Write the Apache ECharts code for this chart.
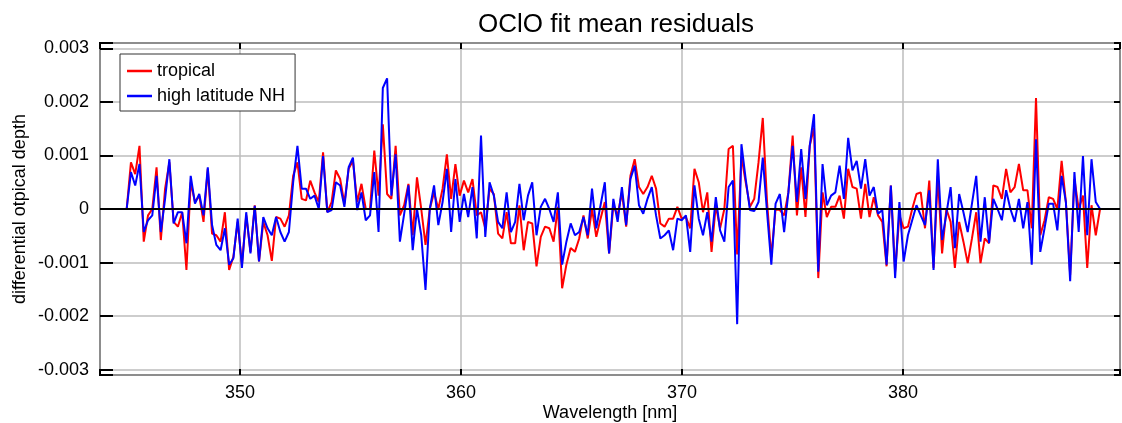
<!DOCTYPE html>
<html><head><meta charset="utf-8">
<script src="https://cdn.jsdelivr.net/npm/echarts@6/dist/echarts.min.js"></script>
<style>html,body{margin:0;padding:0;background:#fff}#c{width:1122px;height:423px}</style>
</head><body><div id="c"></div>
<script>
const chartTitle = 'OClO fit mean residuals';
const xName = 'Wavelength [nm]';
const yName = 'differential otpical depth';
const seriesNames = ['tropical', 'high latitude NH'];
// spectral sampling grid (nm)
const wlStart = 344.674, wlStep = 0.1932;

const tropical = [0, 0, 0.00087, 0.00065, 0.00118, -0.00061, -0.00012, 0, 0.00078, -0.00058,
0.00038, 0.00087, -0.00024, -0.00033, -0.00006, -0.00114, 0.0005, 0.00013, 0.00025, -0.00024,
0.00075, -0.00046, -0.00049, -0.00061, -0.00006, -0.00114, -0.00089, -0.00024, -0.00104, -0.00012,
-0.0008, 0.00007, -0.00098, -0.00024, -0.00049, -0.00097, -0.00015, -0.00018, -0.00033, -0.00012,
0.00062, 0.00087, 0.00019, 0.00016, 0.00053, 0.00031, 0.00013, 0.00106, -0.00006, 0.00013,
0.00072, 0.00056, 0.0001, 0.00075, 0.0009, 0.00013, 0.00047, 0, 0, 0.00109,
0.00025, 0.00158, 0.00028, 0.00019, 0.00118, -0.00012, 0.00007, 0.00047, -0.00049, 0.00059,
0, -0.00067, 0, 0.00031, 0, 0.00038, 0.00102, 0.00019, 0.00084, 0.00025,
0.00053, 0.00031, 0.00056, -0.00012, -0.00006, -0.00036, 0.00038, 0.00028, -0.00046, -0.00055,
-0.00006, -0.00064, -0.00064, 0.00007, -0.00077, -0.00024, -0.00027, -0.00107, -0.00052, -0.00033,
-0.00036, -0.00061, 0.00004, -0.00148, -0.00104, -0.00073, -0.0008, -0.00055, -0.00012, -0.00055,
0, -0.00052, -0.00018, 0.00013, -0.00083, 0.00007, -0.00012, 0.00031, -0.00033, 0.00062,
0.00093, 0.00041, 0.00028, 0.00041, 0.00062, 0.00038, -0.00027, -0.00033, -0.00018, -0.00018,
0.00004, -0.00018, -0.00015, -0.00036, 0.00075, 0.0005, -0.00006, 0.00031, -0.0008, 0.00007,
-0.00036, 0, 0.00112, 0.00118, -0.00085, 0.00099, 0.0005, 0.00004, 0.00019, 0.00087,
0.0017, 0.00013, -0.0009, 0, -0.00002, -0.00012, 0.00031, 0.00137, -0.00012, 0.00078,
-0.00015, 0.00118, 0.00152, -0.00129, 0.00031, -0.00015, 0.00004, 0.00004, 0.00025, -0.00018,
0.00075, 0.00041, 0.00038, -0.00018, 0.00047, -0.00015, 0.00022, -0.00012, -0.00024, -0.00107,
0.00044, -0.00117, -0.00012, -0.00036, -0.00033, 0, 0.00028, 0.00031, -0.00036, 0.00053,
-0.0011, 0.00062, -0.00083, 0, -0.00024, -0.0011, -0.00024, -0.00061, -0.00101, -0.00055,
-0.00006, -0.00101, -0.00055, -0.00064, 0.00044, 0.00041, 0.00019, 0.00075, 0.00031, 0.00041,
0.00084, 0.00035, 0.00035, -0.00036, 0.00207, -0.00049, -0.00021, 0.00022, 0.00019, 0,
0.0009, 0.00013, -0.00123, 0.00056, 0, 0.00025, -0.0011, 0.00007, -0.00049, 0];

const highLatNH = [0, 0, 0.00069, 0.00044, 0.00084, -0.00043, -0.00021, -0.00012, 0.00062, -0.00043,
0.00019, 0.00093, -0.00027, -0.00006, -0.00006, -0.00064, 0.00062, 0.0001, 0.00028, -0.00012,
0.00078, -0.0003, -0.00067, -0.00077, -0.00036, -0.00104, -0.00092, -0.00018, -0.0011, -0.00006,
-0.00083, 0.00006, -0.00098, -0.00015, -0.00036, -0.00049, -0.00015, -0.00043, -0.00061, -0.00043,
0.0005, 0.00118, 0.00038, 0.00038, 0.00019, 0.00025, 0, 0.00099, -0.00006, -0.00002,
0.0005, 0.00044, 0.00004, 0.00078, 0.00096, -0.00002, 0.00031, -0.00021, -0.00012, 0.00069,
-0.00043, 0.00226, 0.00244, 0.00025, 0.00102, -0.00061, -0.00009, 0.00044, -0.00077, 0,
-0.00049, -0.00151, 0, 0.00044, -0.0003, 0.00013, 0.00075, -0.00043, 0.00056, -0.00024,
0.00028, -0.00015, 0.00041, -0.00055, 0.00137, -0.00052, 0.0005, 0.00025, -0.00024, -0.00036,
0.00031, -0.00043, -0.00024, 0.00047, -0.00021, 0.00025, 0.0005, -0.00049, 0.00004, 0.00019,
0, -0.00024, 0.00031, -0.00104, -0.00061, -0.00027, -0.00049, -0.00043, -0.00015, -0.00049,
0.00038, -0.00036, 0.00007, 0.0005, -0.00083, 0.00019, -0.00024, 0.00041, -0.0003, 0.00056,
0.00081, 0.00007, -0.00009, 0.00019, 0.00041, -0.00012, -0.00055, -0.00049, -0.0004, -0.00077,
-0.00018, -0.00021, -0.00012, -0.0008, 0.00044, -0.00018, -0.00049, -0.00006, -0.00061, 0.00022,
-0.0004, -0.00061, 0.00041, 0.00053, -0.00215, 0.00121, 0.00056, -0.00002, -0.00004, 0.00013,
0.00096, -0.00006, -0.00104, 0.0001, 0.00028, -0.00043, 0.00031, 0.00118, 0.00013, 0.00112,
0.00019, 0.00118, 0.00177, -0.00117, 0.00084, 0.00007, 0.00025, 0.00031, 0.00081, 0.00019,
0.00133, 0.00072, 0.0009, 0.00038, 0.00093, 0.00025, 0.00041, -0.00009, -0.00002, -0.00104,
0.00044, -0.00129, 0.00013, -0.00098, -0.00049, -0.00021, 0.00007, -0.00012, -0.0003, 0.00035,
-0.00114, 0.00093, -0.00058, -0.00009, 0.00041, -0.00073, 0.00028, -0.00006, -0.00043, 0.0001,
0.00062, -0.00061, 0.00022, -0.00064, 0.00019, 0, -0.00021, 0.00035, 0, -0.00024,
0.00019, -0.00036, 0.00013, -0.00104, 0.0013, -0.0008, -0.00036, 0.0001, 0.0001, -0.0004,
0.00062, 0.00013, -0.00135, 0.00069, -0.00043, 0.00099, -0.00049, 0.00093, 0.00013, 0,
0, 0];

const xRange = [343.66, 389.82];
const yRange = [-0.0031, 0.0031];

const FONT = '"Liberation Sans", Arial, Helvetica, sans-serif';
function pairs(vals) {
  return vals.map((v, i) => [+(wlStart + i * wlStep).toFixed(4), v]);
}
function yFmt(v) {
  const k = Math.round(v * 1000);
  if (Math.abs(v * 1000 - k) > 1e-6) return '';
  return k === 0 ? '0' : (k / 1000).toFixed(3);
}
function xFmt(v) {
  const k = Math.round(v);
  if (Math.abs(v - k) > 1e-6 || k % 10 !== 0) return '';
  return String(k);
}
const chart = echarts.init(document.getElementById('c'), null, {renderer: 'canvas'});
const gridLine = {show: true, lineStyle: {color: '#bdbdbd', width: 1.5}};
const noLine = {show: false, onZero: false};
chart.setOption({
  animation: false,
  backgroundColor: '#fff',
  textStyle: {fontFamily: FONT},
  title: {
    text: chartTitle, left: 616, top: 12, textAlign: 'center', padding: 0,
    textStyle: {fontSize: 26, fontWeight: 'normal', color: '#000', fontFamily: FONT}
  },
  grid: {left: 100, right: 2, top: 43, bottom: 48, show: true, borderColor: '#000', borderWidth: 2,
    containLabel: false, outerBoundsMode: 'none'},
  legend: {
    orient: 'vertical', left: 120, top: 54, padding: [8, 10, 6, 7], itemGap: 7,
    itemWidth: 25, itemHeight: 2.5, icon: 'rect',
    backgroundColor: '#fff', borderColor: '#333', borderWidth: 1,
    textStyle: {fontSize: 18, color: '#000', fontFamily: FONT},
    data: seriesNames
  },
  xAxis: [{
    type: 'value', min: xRange[0], max: xRange[1], splitNumber: 5,
    name: xName, nameLocation: 'middle', nameGap: 29, nameMoveOverlap: false,
    nameTextStyle: {fontSize: 18, color: '#000', fontFamily: FONT},
    axisLine: noLine,
    axisTick: {show: true, inside: true, length: 6, lineStyle: {color: '#000', width: 2}},
    axisLabel: {fontSize: 18, color: '#000', margin: 9, formatter: xFmt, fontFamily: FONT},
    splitLine: gridLine
  }, {
    type: 'value', position: 'top', min: xRange[0], max: xRange[1], splitNumber: 5,
    axisLine: noLine, axisLabel: {show: false}, splitLine: {show: false},
    axisTick: {show: true, inside: true, length: 6, lineStyle: {color: '#000', width: 2}}
  }],
  yAxis: [{
    type: 'value', min: yRange[0], max: yRange[1], splitNumber: 6,
    name: yName, nameLocation: 'middle', nameGap: 71, nameMoveOverlap: false,
    nameTextStyle: {fontSize: 18, color: '#000', fontFamily: FONT},
    axisLine: noLine,
    axisTick: {show: true, inside: true, length: 13, lineStyle: {color: '#000', width: 2}},
    axisLabel: {fontSize: 18, color: '#000', margin: 11, formatter: yFmt, fontFamily: FONT},
    splitLine: gridLine
  }, {
    type: 'value', position: 'right', min: yRange[0], max: yRange[1], splitNumber: 6,
    axisLine: noLine, axisLabel: {show: false}, splitLine: {show: false},
    axisTick: {show: true, inside: true, length: 6, lineStyle: {color: '#000', width: 2}}
  }],
  series: [{
    name: seriesNames[0], type: 'line', data: pairs(tropical),
    showSymbol: false, symbol: 'none', color: '#ff0000',
    lineStyle: {color: '#ff0000', width: 2}, z: 2,
    markLine: {
      silent: true, symbol: 'none', label: {show: false},
      lineStyle: {color: '#000', width: 2, type: 'solid'},
      data: [{yAxis: 0}]
    }
  }, {
    name: seriesNames[1], type: 'line', data: pairs(highLatNH),
    showSymbol: false, symbol: 'none', color: '#0000ff',
    lineStyle: {color: '#0000ff', width: 2}, z: 3
  }]
});
</script></body></html>
